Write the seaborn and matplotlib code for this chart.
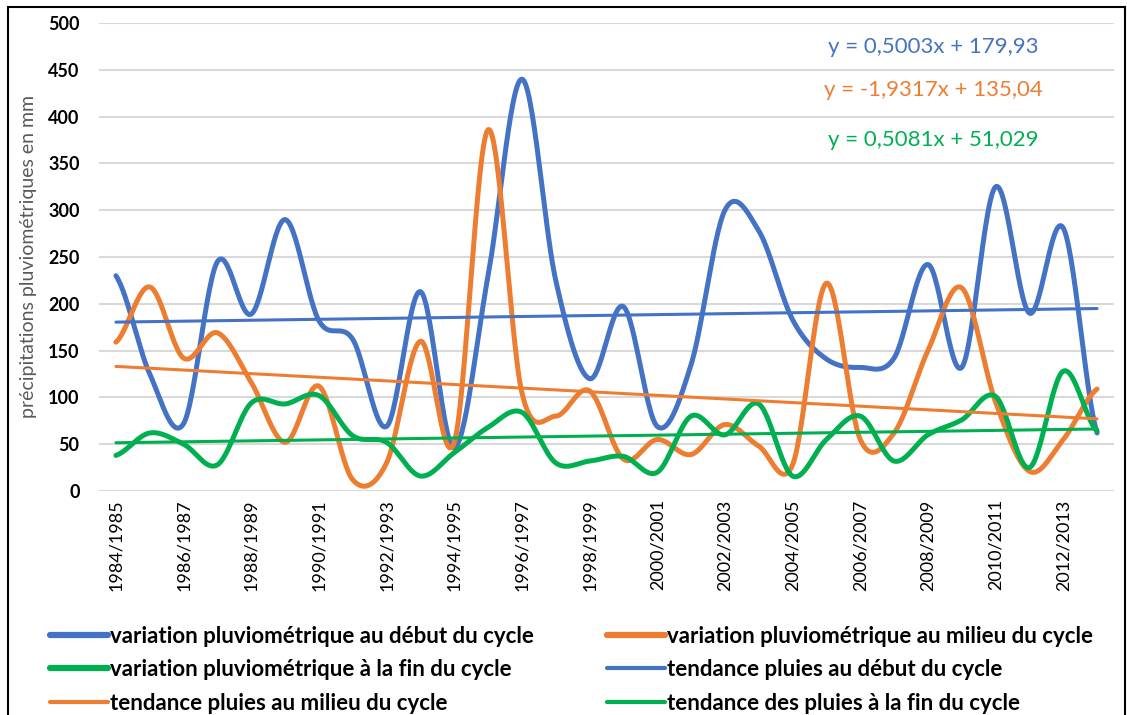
import matplotlib
matplotlib.use("Agg")
import matplotlib.pyplot as plt
from matplotlib.lines import Line2D
from matplotlib.patches import Rectangle
import numpy as np
import pandas as pd
import seaborn as sns

# --- data -------------------------------------------------------------------
seasons = [f"{y}/{y + 1}" for y in range(1984, 2014)]

debut = [230, 125, 72, 245, 189, 290, 182, 162, 69, 213, 46, 230, 440, 225, 120,
         197, 69, 135, 300, 278, 183, 141, 132, 142, 242, 132, 325, 190, 281, 62]
milieu = [159, 218, 142, 169, 116, 52, 112, 12, 30, 160, 52, 386, 105, 80, 107,
          34, 55, 39, 71, 48, 28, 222, 55, 62, 150, 217, 95, 21, 55, 109]
fin = [38, 62, 50, 28, 94, 93, 102, 59, 52, 16, 41, 68, 84, 30, 32,
       37, 20, 80, 60, 93, 16, 55, 80, 32, 60, 76, 101, 25, 128, 64]

trend_slope = [0.5003, -1.9317, 0.5081]
trend_inter = [179.93, 135.04, 51.029]
trend_text = ["y = 0,5003x + 179,93", "y = -1,9317x + 135,04", "y = 0,5081x + 51,029"]

series_names = ["variation pluviométrique au début du cycle",
                "variation pluviométrique au milieu du cycle",
                "variation pluviométrique à la fin du cycle"]
trend_names = ["tendance pluies au début du cycle",
               "tendance pluies au milieu du cycle",
               "tendance des pluies à la fin du cycle"]
colors = ["#4472C4", "#ED7D31", "#00B050"]


def smooth(values, n=30):
    """Excel-style smoothed line (Catmull-Rom bezier through the points)."""
    v = np.asarray(values, float)
    xs, ys = [], []
    for i in range(len(v) - 1):
        p0 = v[i - 1] if i > 0 else v[i]
        p1, p2 = v[i], v[i + 1]
        p3 = v[i + 2] if i + 2 < len(v) else v[i + 1]
        c1 = p1 + (p2 - p0) / 6
        c2 = p2 - (p3 - p1) / 6
        t = np.linspace(0, 1, n, endpoint=False)
        ys.append((1 - t) ** 3 * p1 + 3 * (1 - t) ** 2 * t * c1 + 3 * (1 - t) * t ** 2 * c2 + t ** 3 * p2)
        xs.append(i + t)
    xs.append([len(v) - 1]); ys.append([v[-1]])
    return np.concatenate(xs), np.concatenate(ys)


frames = []
for name, vals in zip(series_names, [debut, milieu, fin]):
    sx, sy = smooth(vals)
    frames.append(pd.DataFrame({"x": sx, "y": sy, "serie": name}))
curves = pd.concat(frames, ignore_index=True)

idx = np.arange(len(seasons))
trends = pd.concat([
    pd.DataFrame({"x": idx, "y": a * (idx + 1) + b, "serie": name})
    for name, a, b in zip(trend_names, trend_slope, trend_inter)
], ignore_index=True)

# --- figure -----------------------------------------------------------------
sns.set_style("white")
plt.rcParams["font.family"] = ["Lato", "DejaVu Sans"]

W, H = 1127, 715
fig = plt.figure(figsize=(W / 100, H / 100), dpi=100)
ax = fig.add_axes([99 / W, 1 - 491 / H, (1114 - 99) / W, (491 - 23) / H])

sns.lineplot(data=curves, x="x", y="y", hue="serie", palette=colors,
             hue_order=series_names, sort=False, estimator=None,
             linewidth=3.6, legend=False, ax=ax, zorder=3)
sns.lineplot(data=trends, x="x", y="y", hue="serie", palette=colors,
             hue_order=trend_names, sort=False, estimator=None,
             linewidth=2.2, legend=False, ax=ax, zorder=4)

ax.set_xlim(-0.5, len(seasons) - 0.5)
ax.set_ylim(0, 500)
ax.set_yticks(range(0, 501, 50))
ax.yaxis.grid(True, color="#D9D9D9", linewidth=1.5)
ax.set_axisbelow(True)
for s in ax.spines.values():
    s.set_visible(False)

ax.set_xticks(idx[::2])
ax.set_xticklabels(seasons[::2], rotation=90, fontsize=13, color="black")
ax.tick_params(axis="x", length=0, pad=6)
ax.tick_params(axis="y", length=0, pad=14, labelsize=13, labelcolor="black")
for lab in ax.get_yticklabels():
    lab.set_fontweight("bold")
ax.set_xlabel("")
ax.set_ylabel("précipitations pluviométriques en mm", fontsize=14, color="#595959")
ax.yaxis.set_label_coords(-62 / (1114 - 99), 0.5)

# trend equations
for txt, c, ypix in zip(trend_text, colors, [47, 90, 140]):
    fig.text(933 / W, 1 - ypix / H, txt, color=c, fontsize=16,
             ha="center", va="center")

# legend: matplotlib fills columns first
handles = [Line2D([], [], color=c, lw=4.5) for c in colors] + \
          [Line2D([], [], color=c, lw=3) for c in colors]
labels = series_names + trend_names
order = [0, 2, 4, 1, 3, 5]
fig.legend([handles[i] for i in order], [labels[i] for i in order],
           ncol=2, loc="lower left", bbox_to_anchor=(30 / W, -0.026),
           frameon=False, prop={"weight": "bold", "size": 16},
           labelcolor="black",
           handlelength=2.6, handletextpad=0.1, columnspacing=3.3,
           labelspacing=0.56)

fig.patches.append(Rectangle((8 / W, -0.05), (1125 - 8) / W, 1.05 - 7 / H,
                             transform=fig.transFigure, fill=False,
                             edgecolor="black", linewidth=1.5))

fig.savefig("out.png", dpi=100)
